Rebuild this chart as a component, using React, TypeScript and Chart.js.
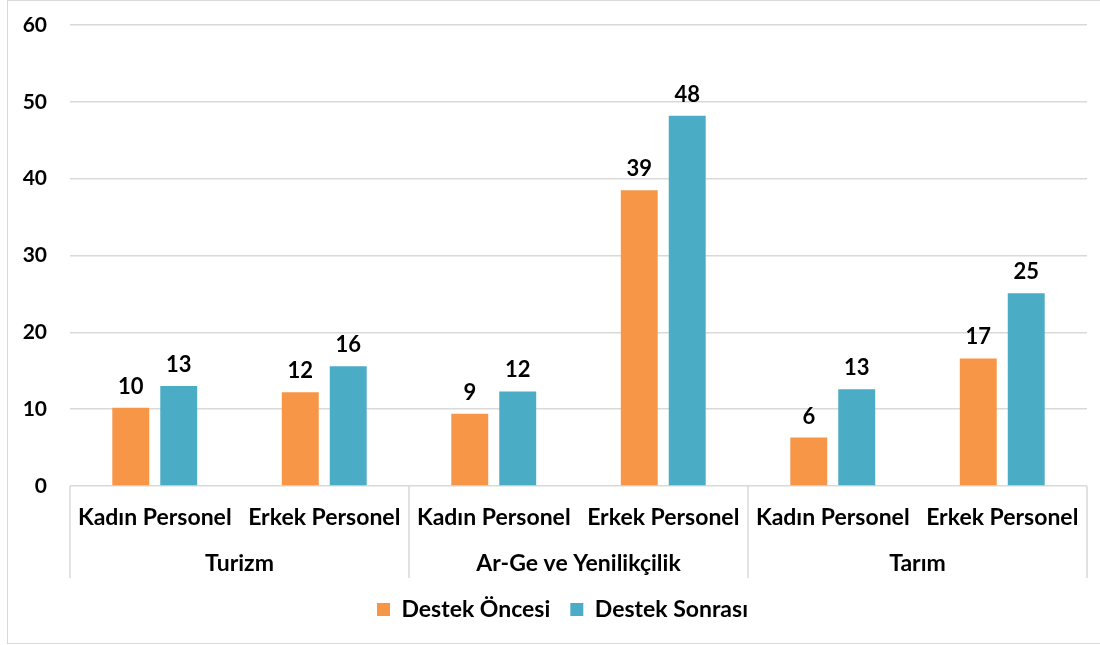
import React, { useEffect, useRef } from "react";
import { Chart, registerables } from "chart.js";

Chart.register(...registerables);

const groups = ["Turizm", "Ar-Ge ve Yenilikçilik", "Tarım"];
const subLabels = ["Kadın Personel", "Erkek Personel", "Kadın Personel", "Erkek Personel", "Kadın Personel", "Erkek Personel"];
const destekOncesi = [10.2, 12.2, 9.4, 38.5, 6.3, 16.6];
const destekSonrasi = [13.0, 15.6, 12.3, 48.2, 12.6, 25.1];
const yTicks = [0, 10, 20, 30, 40, 50, 60];

const FONT = "Lato, 'Open Sans', sans-serif";
const GRID = "#d9d9d9";

const valueLabels = {
  id: "valueLabels",
  afterDatasetsDraw(chart: any) {
    const ctx = chart.ctx;
    ctx.save();
    ctx.font = `bold 22px ${FONT}`;
    ctx.fillStyle = "#000";
    ctx.textAlign = "center";
    ctx.textBaseline = "alphabetic";
    chart.data.datasets.forEach((ds: any, i: number) => {
      const meta = chart.getDatasetMeta(i);
      meta.data.forEach((el: any, j: number) => {
        ctx.fillText(String(Math.round(ds.data[j])), el.x, el.y - 14);
      });
    });
    ctx.restore();
  },
};

const legendShift = {
  id: "legendShift",
  afterLayout(chart: any) {
    if (chart.legend) {
      chart.legend.left += 15;
      chart.legend.right += 15;
    }
  },
};

const groupAxis = {
  id: "groupAxis",
  afterDraw(chart: any) {
    const ctx = chart.ctx;
    const x = chart.scales.x;
    const top = x.top;
    const bottom = x.top + 92;
    const n = subLabels.length;
    const half = (x.getPixelForTick(1) - x.getPixelForTick(0)) / 2;
    ctx.save();
    ctx.strokeStyle = GRID;
    ctx.lineWidth = 1.5;
    const bounds: number[] = [];
    for (let g = 0; g <= groups.length; g++) {
      const idx = g * 2;
      const px = idx < n ? x.getPixelForTick(idx) - half : x.getPixelForTick(n - 1) + half;
      bounds.push(px);
      ctx.beginPath();
      ctx.moveTo(px, top);
      ctx.lineTo(px, bottom);
      ctx.stroke();
    }
    ctx.fillStyle = "#000";
    ctx.textAlign = "center";
    ctx.textBaseline = "middle";
    ctx.font = `bold 23px ${FONT}`;
    subLabels.forEach((s, i) => {
      ctx.fillText(s, x.getPixelForTick(i), top + 32);
    });
    groups.forEach((g, i) => {
      ctx.fillText(g, (bounds[i] + bounds[i + 1]) / 2, top + 78);
    });
    ctx.restore();
  },
};

export default function App() {
  const ref = useRef<HTMLCanvasElement>(null);
  useEffect(() => {
    const chart = new Chart(ref.current!, {
      type: "bar",
      data: {
        labels: subLabels,
        datasets: [
          {
            label: "Destek Öncesi",
            data: destekOncesi,
            backgroundColor: "#F79646",
            barPercentage: 0.77,
            categoryPercentage: 0.566,
          },
          {
            label: "Destek Sonrası",
            data: destekSonrasi,
            backgroundColor: "#4BACC6",
            barPercentage: 0.77,
            categoryPercentage: 0.566,
          },
        ],
      },
      options: {
        animation: false,
        responsive: false,
        maintainAspectRatio: false,
        layout: { padding: { top: 24, right: 14, left: 0, bottom: 12 } },
        plugins: {
          tooltip: { enabled: false },
          legend: {
            position: "bottom",
            labels: {
              boxWidth: 13,
              boxHeight: 13,
              padding: 20,
              color: "#000",
              font: { family: FONT, size: 23, weight: "bold" },
            },
          },
        },
        scales: {
          x: {
            grid: { display: false },
            border: { display: false },
            ticks: { display: false },
            afterFit(scale: any) {
              scale.height = 92;
            },
          },
          y: {
            min: 0,
            max: 60,
            afterBuildTicks(scale: any) {
              scale.ticks = yTicks.map((v) => ({ value: v }));
            },
            grid: { color: GRID, lineWidth: 1.5, drawTicks: false },
            border: { display: false },
            ticks: {
              padding: 23,
              color: "#000",
              font: { family: FONT, size: 21, weight: "bold" },
            },
            afterFit(scale: any) {
              scale.width = 62;
              scale.paddingTop = 0;
              scale.paddingBottom = 0;
            },
          },
        },
      },
      plugins: [valueLabels, groupAxis, legendShift],
    });
    return () => chart.destroy();
  }, []);
  return (
    <div
      style={{
        position: "absolute",
        left: 7,
        top: 0,
        width: 1093,
        height: 642,
        border: `1px solid ${GRID}`,
        borderRight: "none",
        background: "#fff",
      }}
    >
      <canvas ref={ref} width={1093} height={642} style={{ display: "block" }} />
    </div>
  );
}
